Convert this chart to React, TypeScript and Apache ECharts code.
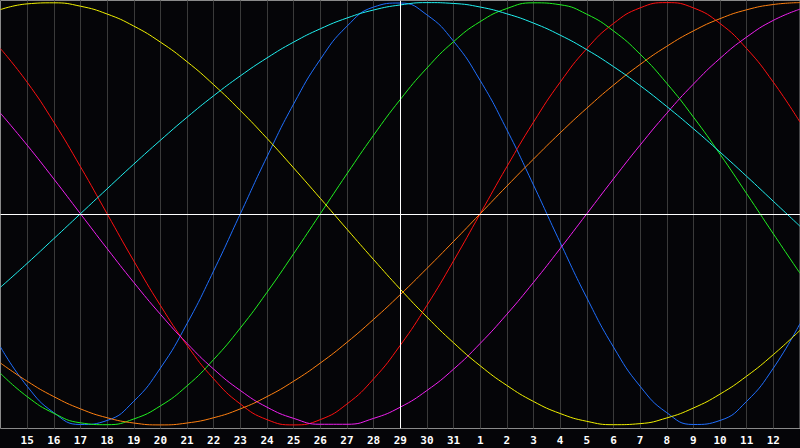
import React, { useEffect, useRef } from "react";
import * as echarts from "echarts";

// day-of-month labels along the x axis (first and last are edges, not shown)
const days = [
  "14", "15", "16", "17", "18", "19", "20", "21", "22", "23", "24", "25", "26", "27", "28", "29",
  "30", "31", "1", "2", "3", "4", "5", "6", "7", "8", "9", "10", "11", "12", "13",
];
const today = "29";

// cycle values per day (range -1..1)
const blue23 = [
  -0.631, -0.817, -0.942, -0.998, -0.979, -0.888, -0.731, -0.52, -0.27, 0, 0.27, 0.52, 0.731,
  0.888, 0.979, 0.998, 0.942, 0.817, 0.631, 0.398, 0.136, -0.136, -0.398, -0.631, -0.817,
  -0.942, -0.998, -0.979, -0.888, -0.731, -0.52,
];
const red28 = [
  0.782, 0.623, 0.434, 0.223, 0, -0.223, -0.434, -0.623, -0.782, -0.901, -0.975, -1, -0.975,
  -0.901, -0.782, -0.623, -0.434, -0.223, 0, 0.223, 0.434, 0.623, 0.782, 0.901, 0.975, 1,
  0.975, 0.901, 0.782, 0.623, 0.434,
];
const green33 = [
  -0.756, -0.866, -0.945, -0.99, -0.999, -0.972, -0.91, -0.815, -0.69, -0.541, -0.372, -0.189,
  0, 0.189, 0.372, 0.541, 0.69, 0.815, 0.91, 0.972, 0.999, 0.99, 0.945, 0.866, 0.756, 0.618,
  0.458, 0.282, 0.095, -0.095, -0.282,
];
const magenta38 = [
  0.476, 0.325, 0.165, 0, -0.165, -0.325, -0.476, -0.614, -0.736, -0.837, -0.916, -0.969,
  -0.997, -0.997, -0.969, -0.916, -0.837, -0.736, -0.614, -0.476, -0.325, -0.165, 0, 0.165,
  0.325, 0.476, 0.614, 0.736, 0.837, 0.916, 0.969,
];
const yellow43 = [
  0.967, 0.994, 0.999, 0.983, 0.946, 0.889, 0.813, 0.72, 0.611, 0.489, 0.357, 0.217, 0.073,
  -0.073, -0.217, -0.357, -0.489, -0.611, -0.72, -0.813, -0.889, -0.946, -0.983, -0.999,
  -0.994, -0.967, -0.92, -0.854, -0.769, -0.667, -0.552,
];
const orange48 = [
  -0.707, -0.793, -0.866, -0.924, -0.966, -0.991, -1, -0.991, -0.966, -0.924, -0.866, -0.793,
  -0.707, -0.609, -0.5, -0.383, -0.259, -0.131, 0, 0.131, 0.259, 0.383, 0.5, 0.609, 0.707,
  0.793, 0.866, 0.924, 0.966, 0.991, 1,
];
const cyan53 = [
  -0.348, -0.235, -0.118, 0, 0.118, 0.235, 0.348, 0.457, 0.559, 0.653, 0.738, 0.813, 0.876,
  0.927, 0.965, 0.989, 1, 0.996, 0.979, 0.947, 0.903, 0.846, 0.777, 0.697, 0.607, 0.508,
  0.403, 0.292, 0.177, 0.059, -0.059,
];

const seriesList = [
  { name: "Physical", data: blue23, color: "#1f6fff" },
  { name: "Emotional", data: red28, color: "#ff1010" },
  { name: "Intellectual", data: green33, color: "#20f020" },
  { name: "Intuitive", data: magenta38, color: "#f020f0" },
  { name: "Aesthetic", data: yellow43, color: "#f0f000" },
  { name: "Awareness", data: orange48, color: "#ff8010" },
  { name: "Spiritual", data: cyan53, color: "#20f0f0" },
];

export default function App() {
  const ref = useRef<HTMLDivElement>(null);
  useEffect(() => {
    if (!ref.current) return;
    const chart = echarts.init(ref.current, undefined, { renderer: "svg" });
    const series: any[] = seriesList.map((s, i) => ({
      name: s.name,
      type: "line",
      data: s.data,
      smooth: true,
      symbol: "none",
      lineStyle: { color: s.color, width: 1 },
      itemStyle: { color: s.color },
      z: 3,
      silent: true,
    }));
    series.push({
      type: "line",
      data: days.map(() => null),
      symbol: "none",
      silent: true,
      z: 5,
      markLine: {
        silent: true,
        symbol: ["none", "none"],
        label: { show: false },
        lineStyle: { color: "#ffffff", width: 1, type: "solid" },
        data: [{ xAxis: today }, { yAxis: 0 }],
      },
    });
    chart.setOption({
      animation: false,
      backgroundColor: "#050508",
      grid: {
        left: 0.5,
        right: 0,
        top: 0.5,
        bottom: 19.5,
        show: true,
        borderColor: "#8a8a8a",
        borderWidth: 1,
        backgroundColor: "transparent",
      },
      xAxis: {
        type: "category",
        data: days,
        boundaryGap: false,
        axisLine: { show: false },
        axisTick: { show: false },
        splitLine: { show: true, lineStyle: { color: "#3a3a3a", width: 1 } },
        axisLabel: {
          interval: (index: number) => index > 0 && index < days.length - 1,
          color: "#ffffff",
          fontFamily: "DejaVu Sans Mono",
          fontWeight: "bold",
          fontSize: 11,
          margin: 6,
        },
      },
      yAxis: {
        type: "value",
        min: -1.017,
        max: 1.01,
        axisLine: { show: false },
        axisTick: { show: false },
        axisLabel: { show: false },
        splitLine: { show: false },
      },
      series,
    });
    return () => chart.dispose();
  }, []);
  return (
    <div
      ref={ref}
      style={{ position: "fixed", left: 0, top: 0, width: 800, height: 448, background: "#050508" }}
    />
  );
}
